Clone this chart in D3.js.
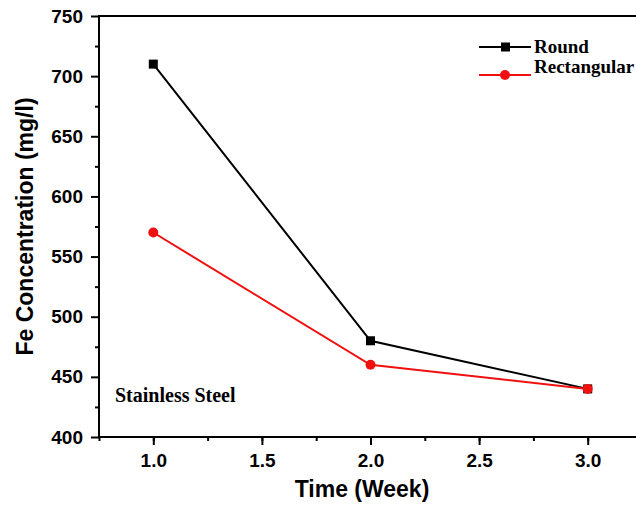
<!DOCTYPE html>
<html lang="en">
<head>
<meta charset="utf-8">
<title>Fe Concentration</title>
<style>
  body { margin: 0; background: #fff; }
  svg { display: block; }
</style>
<script src="https://d3js.org/d3.v7.min.js"></script>
</head>
<body>
<div class="chart"></div>
<script>
// data
const weeks = [1.0, 2.0, 3.0];
const roundVals = [710, 480, 440];
const rectVals = [570, 460, 440];
const seriesNames = ["Round", "Rectangular"];
const xTicks = [1.0, 1.5, 2.0, 2.5, 3.0];
const yTicks = [400, 450, 500, 550, 600, 650, 700, 750];

const W = 636, H = 507;
const plotL = 99, plotT = 16, plotB = 437, plotR = 642;

const svg = d3.select(".chart").append("svg")
  .attr("width", W).attr("height", H);

const x = d3.scaleLinear().domain([0.75, 3.25]).range([plotL, plotR]);
const y = d3.scaleLinear().domain([400, 750]).range([plotB, plotT]);

// frame
svg.append("rect")
  .attr("x", plotL).attr("y", plotT)
  .attr("width", plotR - plotL).attr("height", plotB - plotT)
  .attr("fill", "none").attr("stroke", "#000").attr("stroke-width", 2);

// minor ticks
svg.append("g")
  .attr("transform", `translate(0,${plotB})`)
  .call(d3.axisBottom(x).tickValues(d3.range(0.75, 3.26, 0.25)).tickSize(4).tickFormat(""))
  .call(g => g.select(".domain").remove())
  .selectAll("line").attr("stroke-width", 2);

svg.append("g")
  .attr("transform", `translate(${plotL},0)`)
  .call(d3.axisLeft(y).tickValues(d3.range(425, 750, 50)).tickSize(4).tickFormat(""))
  .call(g => g.select(".domain").remove())
  .selectAll("line").attr("stroke-width", 2);

// major axes
const xAxis = svg.append("g")
  .attr("transform", `translate(0,${plotB})`)
  .call(d3.axisBottom(x).tickValues(xTicks).tickSize(8).tickPadding(9).tickFormat(d3.format(".1f")));
xAxis.select(".domain").remove();
xAxis.selectAll("line").attr("stroke-width", 2);
xAxis.selectAll("text")
  .style("font-family", "'Liberation Sans', Arial, sans-serif")
  .style("font-weight", "bold").style("font-size", "19px").attr("fill", "#000");

const yAxis = svg.append("g")
  .attr("transform", `translate(${plotL},0)`)
  .call(d3.axisLeft(y).tickValues(yTicks).tickSize(8).tickPadding(8));
yAxis.select(".domain").remove();
yAxis.selectAll("line").attr("stroke-width", 2);
yAxis.selectAll("text")
  .style("font-family", "'Liberation Sans', Arial, sans-serif")
  .style("font-weight", "bold").style("font-size", "19px").attr("fill", "#000");

// axis titles
svg.append("text")
  .attr("x", 362).attr("y", 497)
  .attr("text-anchor", "middle")
  .style("font-family", "'Liberation Sans', Arial, sans-serif")
  .style("font-weight", "bold").style("font-size", "23px")
  .text("Time (Week)");

svg.append("text")
  .attr("transform", `translate(33,${(plotT + plotB) / 2}) rotate(-90)`)
  .attr("text-anchor", "middle")
  .style("font-family", "'Liberation Sans', Arial, sans-serif")
  .style("font-weight", "bold").style("font-size", "23px")
  .text("Fe Concentration (mg/l)");

// lines
const roundData = weeks.map((w, i) => ({ w: w, v: roundVals[i] }));
const rectData = weeks.map((w, i) => ({ w: w, v: rectVals[i] }));
const line = d3.line().x(d => x(d.w)).y(d => y(d.v));

svg.append("path").datum(roundData)
  .attr("d", line).attr("fill", "none").attr("stroke", "#000").attr("stroke-width", 2);
svg.append("path").datum(rectData)
  .attr("d", line).attr("fill", "none").attr("stroke", "#f01010").attr("stroke-width", 2);

svg.selectAll(".sq").data(roundData).join("rect")
  .attr("class", "sq")
  .attr("x", d => x(d.w) - 4.5).attr("y", d => y(d.v) - 4.5)
  .attr("width", 9).attr("height", 9).attr("fill", "#000");

svg.selectAll(".dot").data(rectData).join("circle")
  .attr("class", "dot")
  .attr("cx", d => x(d.w)).attr("cy", d => y(d.v)).attr("r", 5)
  .attr("fill", "#f01010");

// legend
const legend = svg.append("g");
const legY = [47, 75];
const legText = [53, 73];
legend.selectAll("line").data(seriesNames).join("line")
  .attr("x1", 479).attr("x2", 531)
  .attr("y1", (d, i) => legY[i]).attr("y2", (d, i) => legY[i])
  .attr("stroke", (d, i) => i ? "#f01010" : "#000").attr("stroke-width", 2);
legend.append("rect")
  .attr("x", 501).attr("y", legY[0] - 4.5).attr("width", 9).attr("height", 9).attr("fill", "#000");
legend.append("circle")
  .attr("cx", 505).attr("cy", legY[1]).attr("r", 5).attr("fill", "#f01010");
legend.selectAll("text").data(seriesNames).join("text")
  .attr("x", 534).attr("y", (d, i) => legText[i])
  .style("font-family", "'Liberation Serif', 'Times New Roman', serif")
  .style("font-weight", "bold").style("font-size", "19px")
  .text(d => d);

svg.append("text")
  .attr("x", 115).attr("y", 402)
  .style("font-family", "'Liberation Serif', 'Times New Roman', serif")
  .style("font-weight", "bold").style("font-size", "20px")
  .text("Stainless Steel");
</script>
</body>
</html>
